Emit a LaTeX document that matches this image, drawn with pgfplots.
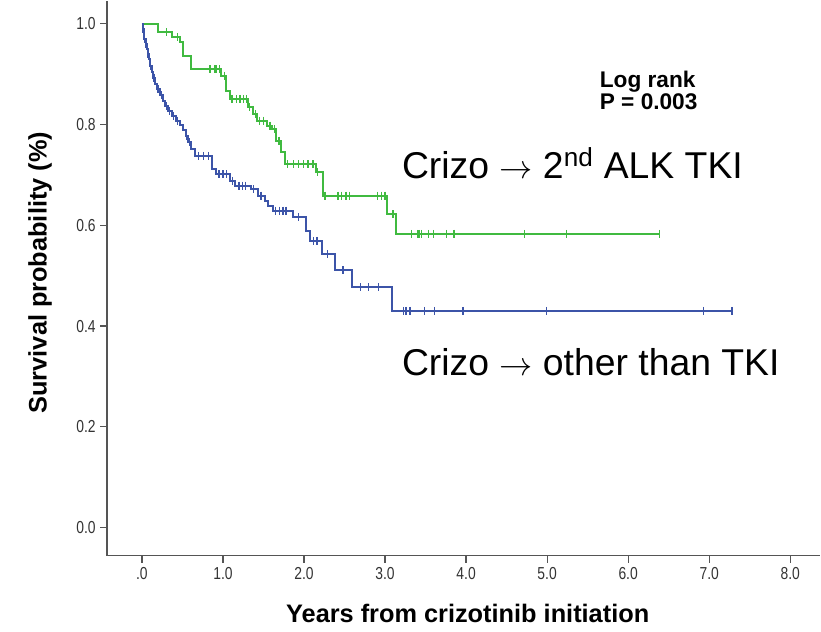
\documentclass[border=0pt]{standalone}
\usepackage{pgfplots}
\pgfplotsset{compat=1.18}
\usepackage{fontspec}
\setmainfont{Liberation Sans}
\newfontfamily\narrow[FakeStretch=0.8]{Liberation Sans}
\definecolor{kmgreen}{RGB}{64,186,64}
\definecolor{kmblue}{RGB}{60,84,168}
\definecolor{axisgray}{RGB}{85,85,85}

\begin{document}
\begin{tikzpicture}
\begin{axis}[
  x=60.8pt, y=378pt,
  xmin=-0.43, xmax=8.372, ymin=-0.056, ymax=1.046,
  axis x line=bottom, axis y line=left,
  axis line style={axisgray, line width=0.9pt, -},
  tick align=outside, major tick length=5pt,
  tick style={axisgray, line width=0.9pt},
  xtick={0,1,...,8}, xticklabels={.0,1.0,2.0,3.0,4.0,5.0,6.0,7.0,8.0},
  ytick={0,0.2,0.4,0.6,0.8,1.0}, yticklabels={0.0,0.2,0.4,0.6,0.8,1.0},
  ticklabel style={font=\narrow\fontsize{13}{15}\selectfont, text=black!80},
  xlabel={Years from crizotinib initiation},
  ylabel={Survival probability (\%)},
  label style={font=\bfseries\fontsize{19}{22}\selectfont},
  xlabel style={at={(axis cs:4.02,-0.1706)}, anchor=center},
  ylabel style={at={(axis cs:-1.258,0.506)}, anchor=center},
  clip=false,
]
% Crizo -> 2nd ALK TKI
\addplot[const plot, kmgreen, line width=1.5pt] coordinates {
(0,1.0) (0.20,0.983) (0.37,0.973) (0.47,0.963) (0.51,0.937) (0.61,0.910)
(0.98,0.897) (1.04,0.867) (1.09,0.851) (1.31,0.834) (1.37,0.821) (1.42,0.808)
(1.54,0.798) (1.61,0.791) (1.66,0.768) (1.72,0.745) (1.76,0.721) (2.15,0.705)
(2.24,0.659) (3.02,0.622) (3.14,0.583) (6.39,0.583)
};
\addplot[only marks, mark=|, mark size=3pt, kmgreen, line width=1pt] coordinates {
(0.30,0.983) (0.44,0.973) (0.84,0.91) (0.90,0.91) (0.92,0.91) (0.96,0.91)
(1.02,0.897) (1.11,0.851) (1.17,0.851) (1.21,0.851) (1.25,0.851) (1.29,0.851)
(1.33,0.834) (1.40,0.821) (1.45,0.808) (1.50,0.808) (1.58,0.798) (1.64,0.791)
(1.69,0.768) (1.80,0.721) (1.87,0.721) (1.93,0.721) (1.99,0.721) (2.05,0.721)
(2.11,0.721) (2.17,0.705) (2.26,0.659) (2.42,0.659) (2.46,0.659) (2.52,0.659)
(2.56,0.659) (2.91,0.659) (2.96,0.659) (3.00,0.659) (3.10,0.622) (3.33,0.583)
(3.40,0.583) (3.42,0.583) (3.45,0.583) (3.54,0.583) (3.60,0.583) (3.76,0.583)
(3.85,0.583) (3.86,0.583) (4.72,0.583) (5.24,0.583) (6.39,0.583)
};
% Crizo -> other than TKI
\addplot[const plot, kmblue, line width=1.5pt] coordinates {
(0,1.0) (0.01,0.99) (0.02,0.98) (0.03,0.97) (0.045,0.96) (0.06,0.95)
(0.07,0.94) (0.085,0.93) (0.10,0.917) (0.12,0.905) (0.14,0.893) (0.16,0.880)
(0.19,0.870) (0.22,0.858) (0.26,0.847) (0.29,0.837) (0.32,0.827) (0.37,0.817)
(0.42,0.808) (0.47,0.799) (0.51,0.789) (0.54,0.777) (0.57,0.765) (0.61,0.752)
(0.65,0.738) (0.86,0.711) (0.91,0.701) (1.09,0.688) (1.15,0.679) (1.35,0.672)
(1.43,0.659) (1.52,0.649) (1.56,0.639) (1.62,0.629) (1.87,0.616) (2.02,0.589)
(2.07,0.569) (2.22,0.543) (2.38,0.511) (2.59,0.477) (3.08,0.430) (7.28,0.430)
};
\addplot[only marks, mark=|, mark size=3pt, kmblue, line width=1pt] coordinates {
(0.01,0.99) (0.025,0.98) (0.035,0.97) (0.05,0.96) (0.065,0.95) (0.075,0.94)
(0.09,0.93) (0.11,0.917) (0.13,0.905) (0.15,0.893) (0.20,0.870) (0.24,0.858)
(0.30,0.837) (0.34,0.827) (0.39,0.817) (0.44,0.808) (0.55,0.777) (0.59,0.765)
(0.70,0.738) (0.76,0.738) (0.82,0.738) (0.95,0.701) (1.00,0.701) (1.04,0.701)
(1.12,0.688) (1.20,0.679) (1.24,0.679) (1.28,0.679) (1.38,0.672) (1.47,0.659)
(1.65,0.629) (1.70,0.629) (1.74,0.629) (1.78,0.629) (1.93,0.616) (2.12,0.569)
(2.16,0.569) (2.29,0.543) (2.48,0.511) (2.70,0.477) (2.80,0.477) (2.92,0.477)
(3.23,0.43) (3.26,0.43) (3.31,0.43) (3.49,0.43) (3.61,0.43) (3.96,0.43)
(4.99,0.43) (6.93,0.43) (7.28,0.43)
};
\node[anchor=north west, align=left, inner sep=0pt, font=\bfseries\fontsize{17}{14}\selectfont]
  at (axis cs:5.647,0.907) {Log rank\\P = 0.003};
\node[anchor=base west, inner sep=0pt, font=\fontsize{28}{31}\selectfont]
  at (axis cs:3.206,0.6925) {Crizo \ensuremath{\rightarrow} 2\textsuperscript{nd} ALK TKI};
\node[anchor=base west, inner sep=0pt, font=\fontsize{28}{31}\selectfont]
  at (axis cs:3.206,0.3016) {Crizo \ensuremath{\rightarrow} other than TKI};
% page size as in the reference
\path (axis cs:-1.751,-0.2063) rectangle (axis cs:8.372,1.0456);
\end{axis}
\end{tikzpicture}
\end{document}
